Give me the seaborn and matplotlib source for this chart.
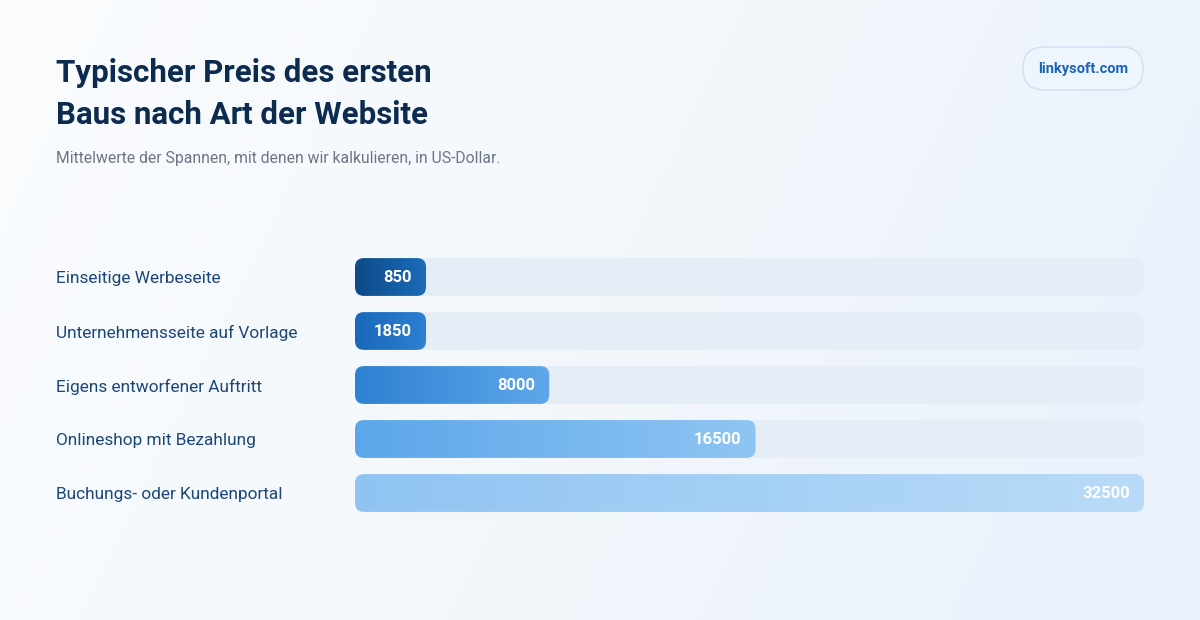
import matplotlib
matplotlib.use("Agg")
import matplotlib.pyplot as plt
from matplotlib.patches import FancyBboxPatch
from matplotlib.colors import LinearSegmentedColormap
import numpy as np
import pandas as pd
import seaborn as sns

# Daten
categories = ["Einseitige Werbeseite", "Unternehmensseite auf Vorlage",
              "Eigens entworfener Auftritt", "Onlineshop mit Bezahlung",
              "Buchungs- oder Kundenportal"]
prices = [850, 1850, 8000, 16500, 32500]
bar_grads = [("#0d4a87", "#1c6cbb"), ("#1a68b8", "#2d80d2"),
             ("#2e80d2", "#5ea8ea"), ("#5ba6ea", "#8fc5f3"),
             ("#8fc4f2", "#b9dbf8")]
title_lines = ["Typischer Preis des ersten", "Baus nach Art der Website"]
subtitle = "Mittelwerte der Spannen, mit denen wir kalkulieren, in US-Dollar."
badge = "linkysoft.com"

W, H = 1200, 620
sns.set_theme(style="white")
plt.rcParams["font.family"] = ["Roboto", "DejaVu Sans"]

fig = plt.figure(figsize=(W / 100, H / 100), dpi=100)

# Hintergrund mit leichtem Verlauf
bg = fig.add_axes([0, 0, 1, 1], zorder=0)
xx, yy = np.meshgrid(np.linspace(0, 1, 300), np.linspace(0, 1, 160))
bg_cmap = LinearSegmentedColormap.from_list("bg", ["#fafcfe", "#f3f7fc", "#e9f1fb"])
bg.imshow(xx * 0.8 + yy * 0.2, cmap=bg_cmap, aspect="auto", extent=[0, 1, 0, 1],
          origin="upper", vmin=0, vmax=1)
bg.axis("off")

# Balkenbereich
left, right = 355, 1144
top, bottom = 250, 520
ax = fig.add_axes([left / W, 1 - bottom / H, (right - left) / W, (bottom - top) / H],
                  zorder=1)
ax.patch.set_alpha(0)

xmax = max(prices)
min_bar = 0.09 * xmax  # kleine Werte bekommen eine Mindestbreite fuer das Label
df = pd.DataFrame({"category": categories, "price": prices,
                   "shown": [max(p, min_bar) for p in prices],
                   "track": [xmax] * len(prices)})

sns.barplot(data=df, x="track", y="category", color="#e5edf7", width=0.70,
            orient="h", ax=ax, saturation=1)
sns.barplot(data=df, x="shown", y="category", color="#1c6cbb", width=0.70,
            orient="h", ax=ax, saturation=1)
ax.set_xlim(0, xmax)
ax.set_ylim(len(categories) - 0.5, -0.5)
ax.set_autoscale_on(False)

# Pixel -> Datenverhaeltnis fuer runde Ecken
xu_per_px = xmax / (right - left)
yu_per_px = len(categories) / (bottom - top)
radius = 9 * xu_per_px
asp = yu_per_px / xu_per_px

rects = list(ax.patches)
n = len(categories)
for k, rect in enumerate(rects):
    x0, y0 = rect.get_x(), rect.get_y()
    w, h = rect.get_width(), rect.get_height()
    rect.set_visible(False)
    if k < n:
        tr = FancyBboxPatch((x0, y0), w, h, boxstyle=f"round,pad=0,rounding_size={radius}",
                            mutation_aspect=asp, facecolor="#e5edf7", edgecolor="none",
                            zorder=1)
        ax.add_patch(tr)
    else:
        i = k - n
        pb = FancyBboxPatch((x0, y0), w, h, boxstyle=f"round,pad=0,rounding_size={radius}",
                            mutation_aspect=asp, facecolor="none", edgecolor="none",
                            zorder=2)
        ax.add_patch(pb)
        cmap = LinearSegmentedColormap.from_list(f"g{i}", list(bar_grads[i]))
        im = ax.imshow(np.linspace(0, 1, 256).reshape(1, -1), cmap=cmap, aspect="auto",
                       extent=[x0, x0 + w, y0 + h, y0], zorder=2, interpolation="bilinear")
        im.set_clip_path(pb)
        ax.annotate(f"{prices[i]}", xy=(x0 + w, y0 + h / 2), xytext=(-14, 0),
                    textcoords="offset pixels", ha="right", va="center",
                    color="white", fontsize=12, fontweight="bold", zorder=3)

ax.set_xlabel("")
ax.set_ylabel("")
ax.set_xticks([])
sns.despine(ax=ax, left=True, bottom=True)
ax.tick_params(axis="y", length=0, pad=(left - 56) * 0.72)
for lab in ax.get_yticklabels():
    lab.set_horizontalalignment("left")
    lab.set_color("#1b4676")
    lab.set_fontsize(12.4)

# Titel und Untertitel
fig.text(56 / W, 1 - 82 / H, title_lines[0], fontsize=22.5, fontweight="bold",
         color="#0d2b4e", va="baseline", ha="left")
fig.text(56 / W, 1 - 124 / H, title_lines[1], fontsize=22.5, fontweight="bold",
         color="#0d2b4e", va="baseline", ha="left")
fig.text(56 / W, 1 - 163 / H, subtitle, fontsize=11.3, color="#6b7684",
         va="baseline", ha="left")

# Badge
pill = FancyBboxPatch((1023 / W, 1 - 90 / H), 120 / W, 43 / H,
                      boxstyle=f"round,pad=0,rounding_size={21.5 / W}",
                      mutation_aspect=W / H, transform=fig.transFigure,
                      facecolor="#eef5fd", edgecolor="#cfe0f3", linewidth=1, zorder=2)
fig.add_artist(pill)
fig.text(1083 / W, 1 - 69 / H, badge, fontsize=10.5, fontweight="bold",
         color="#1a65b5", ha="center", va="center", zorder=3)

fig.savefig("out.png", dpi=100)
